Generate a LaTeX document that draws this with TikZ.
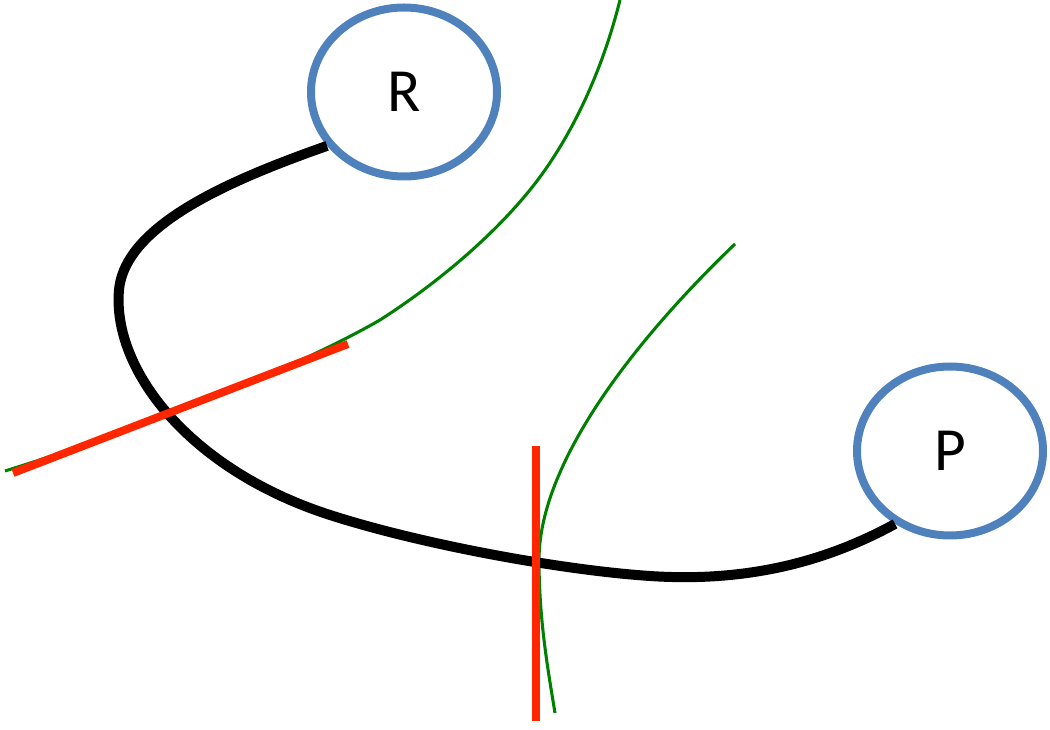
\documentclass[tikz,border=0pt]{standalone}
\usepackage{fontspec}
\setmainfont{Carlito}
\usetikzlibrary{shapes.geometric}
\definecolor{ringblue}{RGB}{79,129,189}
\definecolor{tanred}{RGB}{255,38,0}
\definecolor{levelgreen}{RGB}{0,128,0}
\tikzset{
  state/.style={ellipse, draw=ringblue, line width=6pt, minimum width=139.5pt,
    minimum height=126.75pt, inner sep=0pt, font=\fontsize{46}{50}\selectfont},
  pathline/.style={draw=black, line width=7.5pt},
  levelline/.style={draw=levelgreen, line width=2.3pt},
  tangentline/.style={draw=tanred, line width=6pt}
}
\begin{document}
\begin{tikzpicture}[x=0.75pt, y=-0.75pt]
\useasboundingbox (0,0) rectangle (1050,730);
% green level curves
\coordinate (g1a) at (5,471);
\coordinate (g1b) at (380,320);
\coordinate (g1c) at (545,170);
\coordinate (g1d) at (620,0);
\draw[levelline] (g1a) .. controls (130,432) and (290,372) .. (g1b)
  .. controls (450,275) and (510,220) .. (g1c)
  .. controls (580,120) and (605,60) .. (g1d);
\coordinate (g2a) at (735,244);
\coordinate (g2b) at (539,560);
\coordinate (g2c) at (555,713);
\draw[levelline] (g2a) .. controls (640,335) and (539,460) .. (g2b)
  .. controls (539,620) and (548,670) .. (g2c);
% nodes
\node[state] (R) at (404,92) {R};
\node[state] (P) at (950,451) {P};
% reaction path
\coordinate (b1) at (119,290);
\coordinate (b2) at (330,515);
\coordinate (b3) at (650,576);
\draw[pathline] (R.215) .. controls (230,180) and (125,225) .. (b1)
  .. controls (112,370) and (190,470) .. (b2)
  .. controls (420,544) and (560,570) .. (b3)
  .. controls (740,582) and (820,565) .. (P.233.5);
% tangent lines
\coordinate (t1a) at (13,473);
\coordinate (t1b) at (348,344);
\coordinate (t2a) at (536,446);
\coordinate (t2b) at (536,721);
\draw[tangentline] (t1a) -- (t1b);
\draw[tangentline] (t2a) -- (t2b);
\end{tikzpicture}
\end{document}
